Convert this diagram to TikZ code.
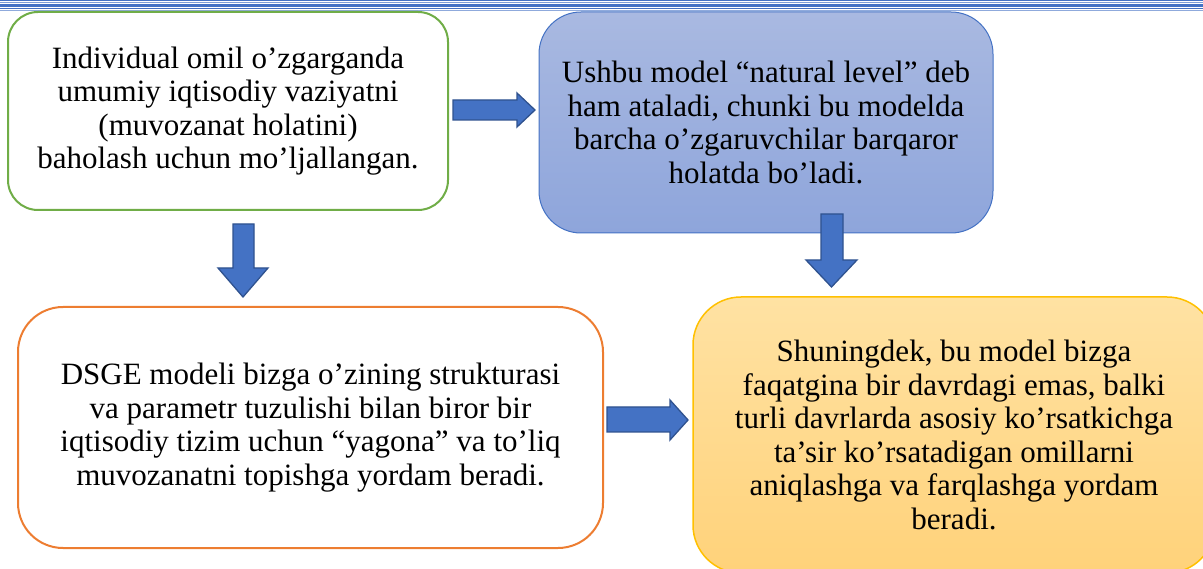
\documentclass[tikz,border=0pt]{standalone}
\usepackage{fontspec}
\setmainfont{Liberation Serif}
\definecolor{grn}{HTML}{70AD47}
\definecolor{blu}{HTML}{4472C4}
\definecolor{bludark}{HTML}{2F528F}
\definecolor{org}{HTML}{ED7D31}
\definecolor{gold}{HTML}{FFC000}
\definecolor{b2top}{HTML}{A9B9E1}
\definecolor{b2bot}{HTML}{8EA5DB}
\definecolor{b4top}{HTML}{FFE2A3}
\definecolor{b4bot}{HTML}{FFD27A}
\tikzset{
  txt/.style={align=center, font=\fontsize{31}{33.5}\selectfont, text=black},
  boxbase/.style={txt, rounded corners=#1, inner sep=0pt},
  blockarr/.style={draw=bludark, fill=blu, line width=1.3pt, line join=miter},
}
\begin{document}
\begin{tikzpicture}[x=1pt,y=-1pt]
\useasboundingbox (0,0) rectangle (1203,569);
% top border lines
\draw[blu, line width=1.2pt] (0,0.4) -- (1203,0.4);
\draw[blu!70, line width=0.8pt] (0,2.7) -- (1203,2.7);
\draw[blu, line width=3pt] (0,5.8) -- (1203,5.8);
\draw[blu, line width=1pt] (0,9) -- (1203,9);
\draw[blu!60, line width=0.8pt] (0,10.8) -- (1203,10.8);
% boxes
\node[boxbase=30pt, draw=grn, line width=2pt, fill=white, minimum width=440pt, minimum height=198pt] (b1) at (228,111)
 {Individual omil o’zgarganda\\umumiy iqtisodiy vaziyatni\\(muvozanat holatini)\\baholash uchun mo’ljallangan.};
\node[boxbase=42pt, draw=blu, line width=1pt, top color=b2top, bottom color=b2bot, minimum width=454pt, minimum height=221pt] (b2) at (766,122.5)
 {Ushbu model “natural level” deb\\ham ataladi, chunki bu modelda\\barcha o’zgaruvchilar barqaror\\holatda bo’ladi.};
\node[boxbase=45pt, draw=org, line width=2pt, fill=white, minimum width=585pt, minimum height=241pt] (b3) at (310.5,427.5)
 {DSGE modeli bizga o’zining strukturasi\\va parametr tuzulishi bilan biror bir\\iqtisodiy tizim uchun “yagona” va to’liq\\muvozanatni topishga yordam beradi.};
\node[boxbase=48pt, draw=gold, line width=1.5pt, top color=b4top, bottom color=b4bot, minimum width=522pt, minimum height=276pt] (b4) at (954,435)
 {Shuningdek, bu model bizga\\faqatgina bir davrdagi emas, balki\\turli davrlarda asosiy ko’rsatkichga\\ta’sir ko’rsatadigan omillarni\\aniqlashga va farqlashga yordam\\beradi.};
% block arrows
\draw[blockarr] (453,100) -- (517,100) -- (517,93) -- (535,110) -- (517,127) -- (517,120) -- (453,120) -- cycle;
\draw[blockarr] (233,224) -- (254,224) -- (254,268) -- (268,268) -- (243,297) -- (218,268) -- (233,268) -- cycle;
\draw[blockarr] (821,214) -- (843,214) -- (843,260) -- (857,260) -- (831.5,287) -- (806,260) -- (821,260) -- cycle;
\draw[blockarr] (607,407) -- (670,407) -- (670,400) -- (688,420) -- (670,440) -- (670,432) -- (607,432) -- cycle;
\end{tikzpicture}
\end{document}
